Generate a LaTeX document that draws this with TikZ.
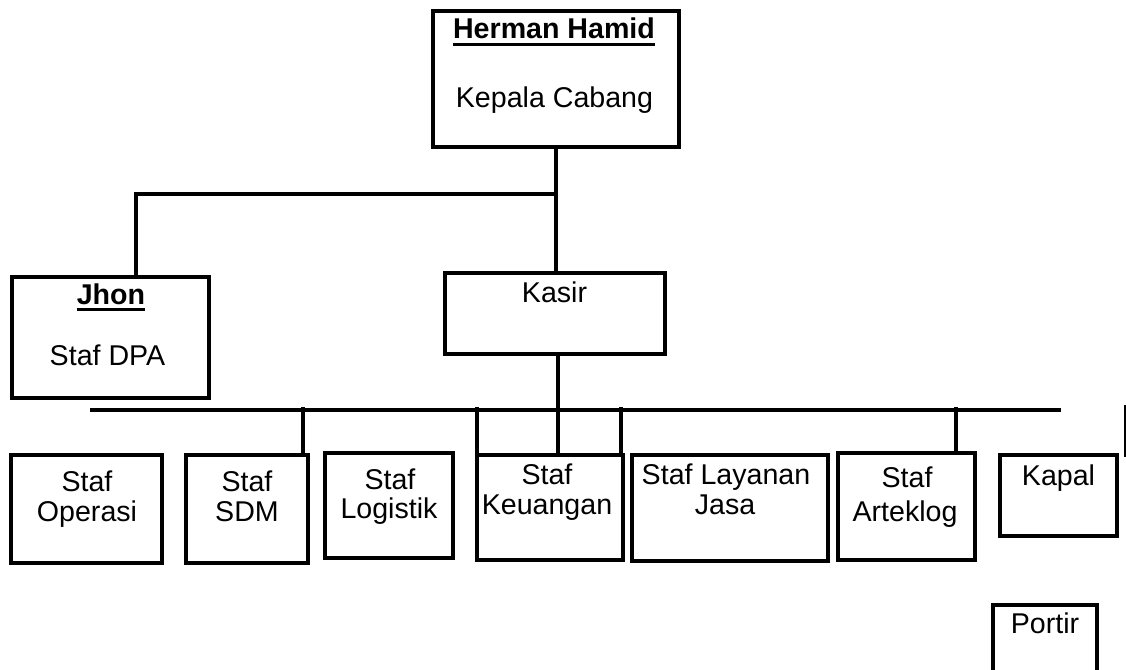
\documentclass[tikz,border=0pt]{standalone}
\usepackage{fontspec}
\setmainfont{Liberation Sans}
\begin{document}
\begin{tikzpicture}[x=1pt,y=-1pt,
  box/.style={draw, line width=3.8pt, rectangle, inner sep=0pt, outer sep=0pt},
  wire/.style={line width=3.2pt},
  uline/.style={line width=3pt},
  lbl/.style={inner sep=0pt, anchor=base, font=\fontsize{28.6}{28.6}\selectfont},
  blbl/.style={lbl, font=\fontsize{28.6}{28.6}\selectfont\bfseries}]
\clip (0,0) rectangle (1126,669);
\fill[white] (0,0) rectangle (1126,669);
\newcommand\mybox[5]{\node[box, minimum width={(#4-#2)*1pt}, minimum height={(#5-#3)*1pt}] (#1) at ({(#2+#4)/2},{(#3+#5)/2}) {};}
% boxes
\mybox{hh}{433}{11}{679}{147}
\mybox{jh}{12}{277}{209}{398}
\mybox{kas}{445}{273}{665}{354}
\mybox{op}{11}{455}{162}{563}
\mybox{sdm}{186}{455}{308}{563}
\mybox{log}{325}{453}{453}{558}
\mybox{keu}{477}{455}{623}{560}
\mybox{lay}{632}{455}{828}{561}
\mybox{art}{838}{453}{975}{560}
\mybox{kap}{1000}{455}{1117}{536}
\mybox{por}{993}{605}{1097}{700}
% labels
\node[blbl] (hhn) at (554,39) {Herman Hamid};
\draw[uline] ([yshift=-6pt]hhn.base west) -- ([yshift=-6pt]hhn.base east);
\node[lbl] (hht) at (554.5,107) {Kepala Cabang};
\node[blbl] (jhn) at (111,304) {Jhon};
\draw[uline] ([yshift=-5.5pt]jhn.base west) -- ([yshift=-5.5pt]jhn.base east);
\node[lbl] (jht) at (107.5,365) {Staf DPA};
\node[lbl] (kast) at (554.5,302) {Kasir};
\node[lbl] (op1) at (87,491) {Staf};
\node[lbl] (op2) at (87,521) {Operasi};
\node[lbl] (sdm1) at (247,491) {Staf};
\node[lbl] (sdm2) at (247,521) {SDM};
\node[lbl] (log1) at (390,489) {Staf};
\node[lbl] (log2) at (389,518) {Logistik};
\node[lbl] (keu1) at (547,484) {Staf};
\node[lbl] (keu2) at (547,514) {Keuangan};
\node[lbl] (lay1) at (726,484) {Staf Layanan};
\node[lbl] (lay2) at (725,514) {Jasa};
\node[lbl] (art1) at (907,487) {Staf};
\node[lbl] (art2) at (905,521) {Arteklog};
\node[lbl] (kap1) at (1058.5,485) {Kapal};
\node[lbl] (por1) at (1045,633) {Portir};
% connectors
\coordinate (hj) at (136,194);
\coordinate (hk) at (558,194);
\draw[wire] (hh.south) -- (hh.south |- kas.north);
\draw[wire] (jh.north -| hj) -- (hj) -- (hk);
\coordinate (kb) at (558,410);
\draw[wire] (kas.south -| kb) -- (kb |- keu.north);
\coordinate (busL) at (90,410);
\coordinate (busR) at (1061,410);
\coordinate (busT) at (0,406.5);
\draw[wire] (busL) -- (busR);
\coordinate (sdmc) at ([xshift=-5pt]sdm.north east);
\draw[wire] (sdmc) -- (sdmc |- busT);
\draw[wire] (keu.north west) -- (keu.north west |- busT);
\coordinate (keuc) at ([xshift=-2pt]keu.north east);
\draw[wire] (keuc) -- (keuc |- busT);
\coordinate (artc) at ([xshift=-19pt]art.north east);
\draw[wire] (artc) -- (artc |- busT);
\coordinate (rt) at (1124.8,405);
\coordinate (rb) at (1124.8,457);
\draw[line width=1.5pt] (rt) -- (rb);
\end{tikzpicture}
\end{document}
